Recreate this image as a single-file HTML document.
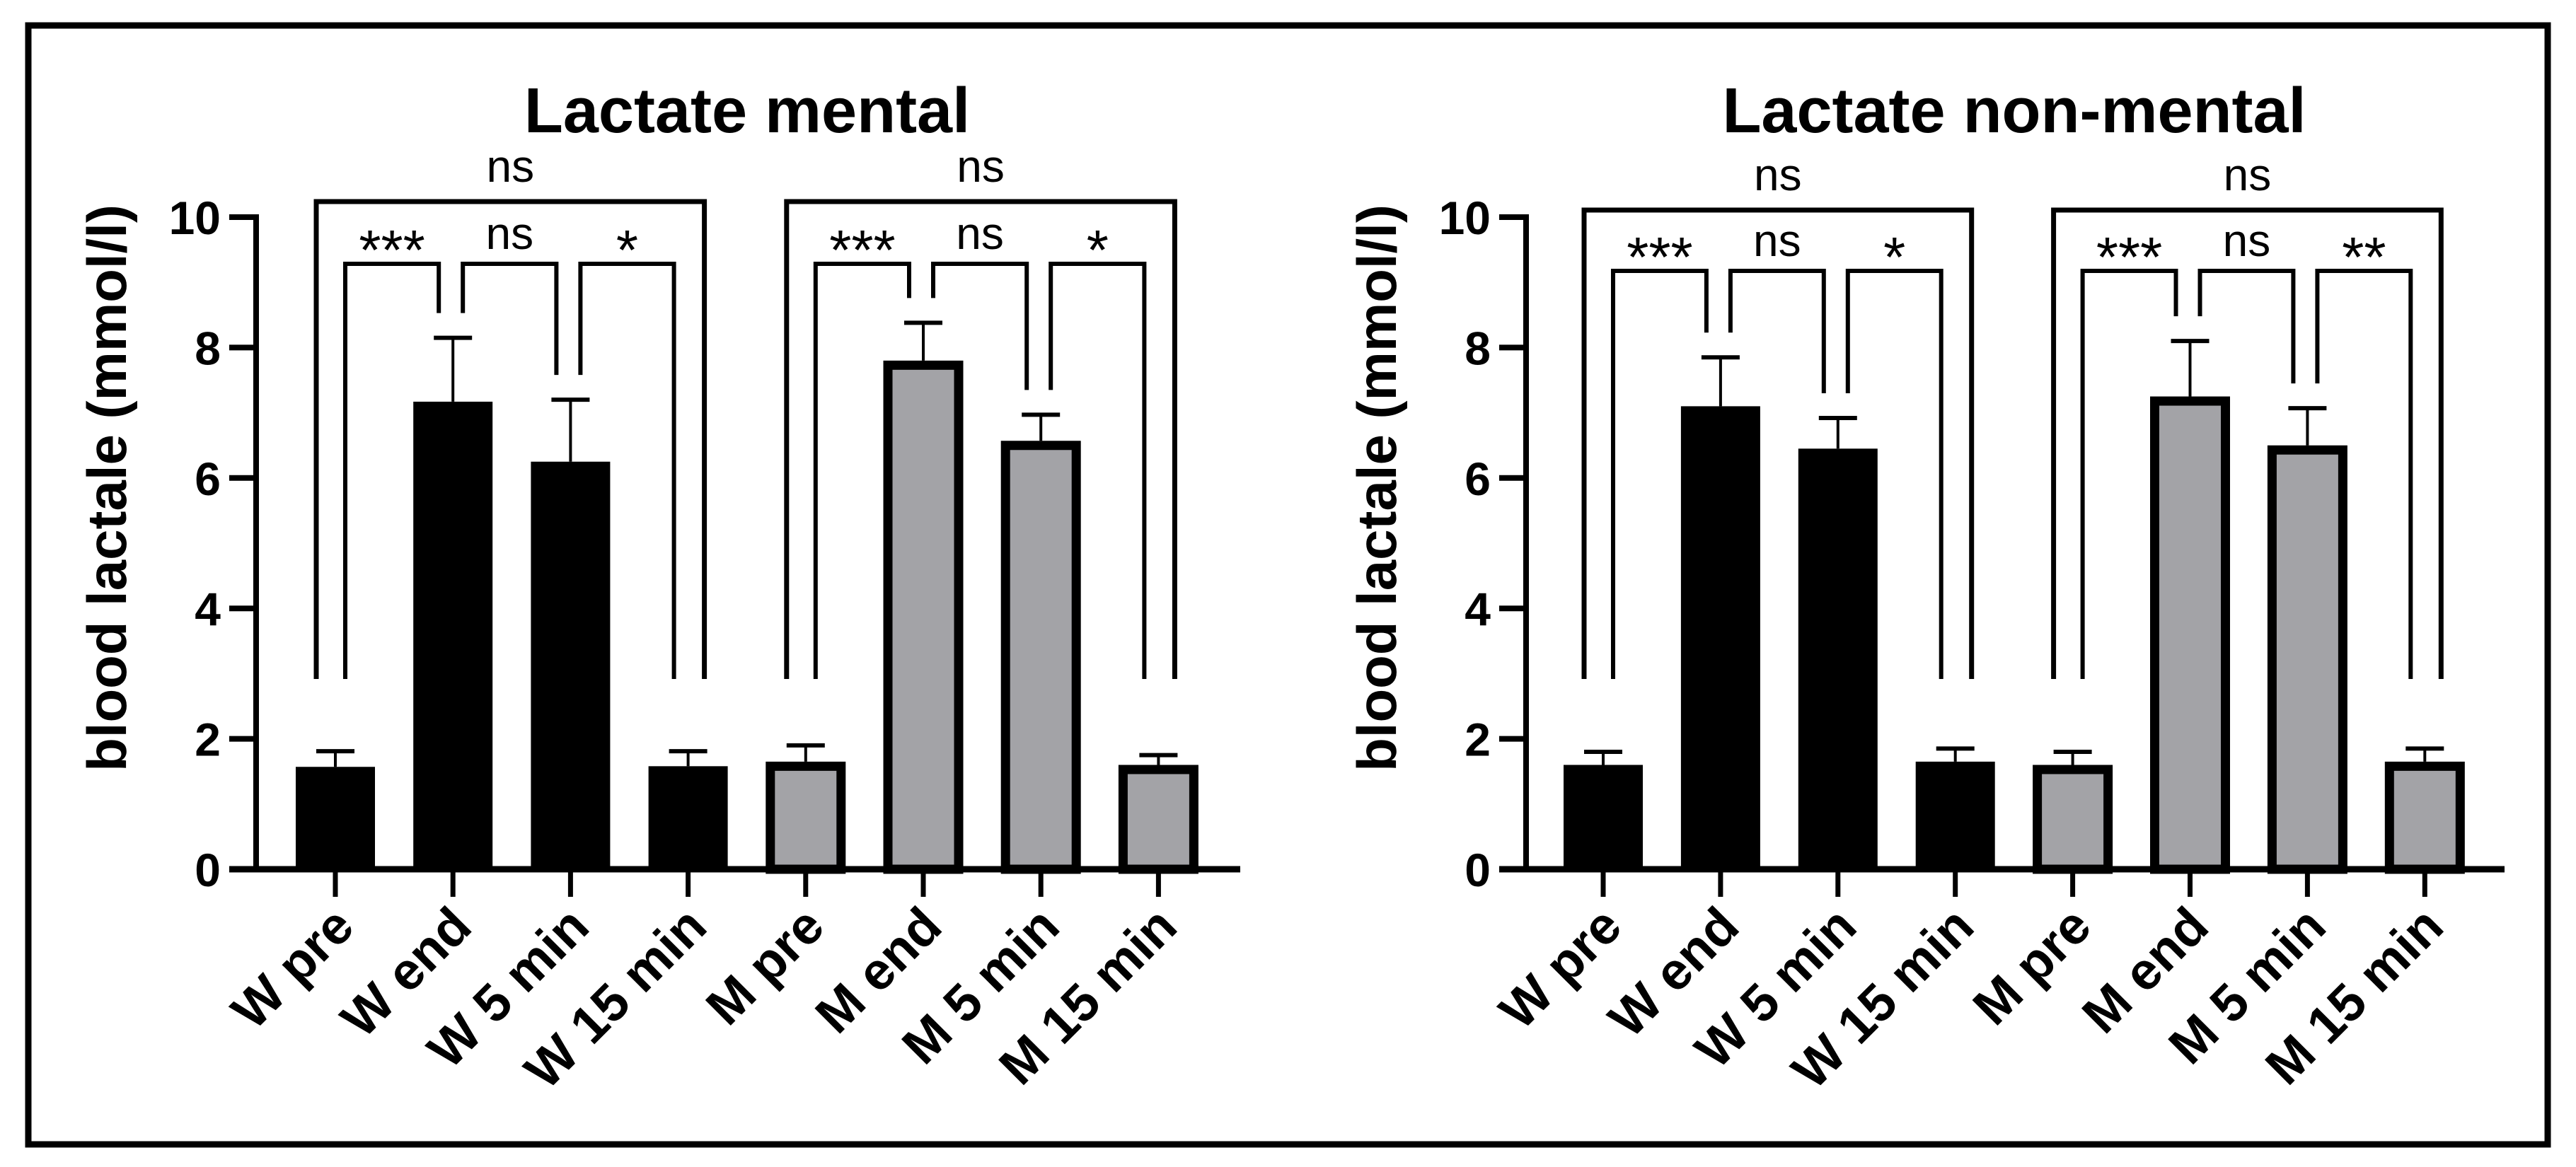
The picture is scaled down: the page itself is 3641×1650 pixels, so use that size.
<!DOCTYPE html>
<html><head><meta charset="utf-8">
<style>
html,body{margin:0;padding:0;background:#fff;}
svg{display:block;}
text{font-family:"Liberation Sans",Arial,sans-serif;fill:#000;}
</style></head>
<body>
<svg id="fig" width="3641" height="1650" viewBox="0 0 3641 1650" xmlns="http://www.w3.org/2000/svg">
<rect x="40" y="36" width="3561" height="1582" fill="none" stroke="#000" stroke-width="9"/>
</svg>
<script>
const categories = ["W pre","W end","W 5 min","W 15 min","M pre","M end","M 5 min","M 15 min"];
const mentalMeans = [1.57,7.17,6.25,1.58,1.65,7.8,6.57,1.6];
const mentalErr = [1.81,8.15,7.2,1.81,1.9,8.38,6.97,1.75];
const nonMentalMeans = [1.6,7.1,6.45,1.65,1.6,7.25,6.5,1.65];
const nonMentalErr = [1.8,7.85,6.92,1.85,1.8,8.1,7.07,1.85];
const yTicks = [0,2,4,6,8,10];
const mentalSig = ["***","ns","*","***","ns","*"];
const nonMentalSig = ["***","ns","*","***","ns","**"];
const groupSig = ["ns","ns"];

const NS = "http://www.w3.org/2000/svg";
const svg = document.getElementById('fig');
function el(tag, attrs, parent){
  const e = document.createElementNS(NS, tag);
  for (const k in attrs) e.setAttribute(k, attrs[k]);
  (parent||svg).appendChild(e);
  return e;
}
function sigText(g, x, yb, s){
  const star = s.indexOf('*') >= 0;
  const st = el('text', {x: x, y: star ? yb + 8 : yb - 21, 'font-size': star ? 80 : 64, 'text-anchor': 'middle'}, g);
  st.textContent = s;
  return st;
}
function drawChart(cfg){
  const g = el('g', {});
  
  
  const y0 = 1229, y10 = 307;
  const yScale = v => y0 - (y0 - y10) * v / 10;
  const xScale = i => cfg.x0 + i * cfg.step;
  const axisX = cfg.axisX;
  const t = el('text', {x: cfg.titleX, y: 187, 'font-size': 90, 'font-weight': 'bold', 'text-anchor': 'middle'}, g);
  t.textContent = cfg.title;
  
  
  const yt = el('text', {x: 0, y: 0, 'font-size': 78, 'font-weight': 'bold', 'text-anchor': 'middle', transform: `translate(${axisX-184},690) rotate(-90)`}, g);
  yt.textContent = 'blood lactale (mmol/l)';
  
  
  cfg.means.forEach((v, i) => {
    const cx = xScale(i);
    const top = yScale(v);
    const grey = i >= 4;
    const ey = yScale(cfg.err[i]);
    const eb = el('line', {x1: cx, x2: cx, y1: top, y2: ey, stroke: '#000', 'stroke-width': 4}, g);
    
    
    const ec = el('line', {x1: cx-27, x2: cx+27, y1: ey, y2: ey, stroke: '#000', 'stroke-width': 6}, g);
    
    
    let b;
    if (grey) {
      b = el('rect', {x: cx-50, y: top+6.5, width: 100, height: y0-top-6.5, fill: '#a3a3a7', stroke: '#000', 'stroke-width': 13}, g);
    } else {
      b = el('rect', {x: cx-56, y: top, width: 112, height: y0-top, fill: '#000'}, g);
    }
    
    
    const xt = el('line', {x1: cx, x2: cx, y1: y0, y2: 1268, stroke: '#000', 'stroke-width': 7}, g);
    
    
    const lbl = el('text', {x: 0, y: 0, 'font-size': 74, 'font-weight': 'bold', 'text-anchor': 'end', transform: `translate(${cx+30},1314) rotate(-45)`}, g);
    lbl.textContent = categories[i];
    
    
  });
  const ya = el('line', {x1: axisX, x2: axisX, y1: y10-4, y2: y0+4, stroke: '#000', 'stroke-width': 8}, g);
  
  
  const xa = el('line', {x1: axisX-38, x2: cfg.axisEnd, y1: y0, y2: y0, stroke: '#000', 'stroke-width': 9}, g);
  
  
  yTicks.forEach(v => {
    const yy = yScale(v);
    const tk = el('line', {x1: axisX-38, x2: axisX, y1: yy, y2: yy, stroke: '#000', 'stroke-width': 8}, g);
    
    
    const tl = el('text', {x: axisX-50, y: yy+24, 'font-size': 66, 'font-weight': 'bold', 'text-anchor': 'end'}, g);
    tl.textContent = v;
    
    
  });
  function legBottom(i){ return Math.min(yScale(cfg.err[i]) - 35, 960); }
  const pairs = [[0,1],[1,2],[2,3],[4,5],[5,6],[6,7]];
  pairs.forEach((p, k) => {
    const xl = xScale(p[0]) + 14, xr = xScale(p[1]) - 20;
    const yb = cfg.smallY;
    const br = el('path', {d: `M${xl},${legBottom(p[0])} V${yb} H${xr} V${legBottom(p[1])}`, fill: 'none', stroke: '#000', 'stroke-width': 6}, g);
    
    
    const st = sigText(g, (xl+xr)/2, yb, cfg.sig[k]);
    
    
  });
  [[0,3],[4,7]].forEach((p, k) => {
    const xl = xScale(p[0]) - 27, xr = xScale(p[1]) + 23;
    const yb = cfg.bigY;
    const br = el('path', {d: `M${xl},960 V${yb} H${xr} V960`, fill: 'none', stroke: '#000', 'stroke-width': 7}, g);
    
    
    const st = el('text', {x: (xl+xr)/2, y: yb - 28, 'font-size': 64, 'text-anchor': 'middle'}, g);
    st.textContent = groupSig[k];
    
    
  });
}
drawChart({name: 'chart-lactate-mental', title: 'Lactate mental', titleX: 1056, axisX: 362, axisEnd: 1753, x0: 474, step: 166.2, means: mentalMeans, err: mentalErr, sig: mentalSig, bigY: 285, smallY: 373});
drawChart({name: 'chart-lactate-non-mental', title: 'Lactate non-mental', titleX: 2847, axisX: 2157, axisEnd: 3540, x0: 2266, step: 165.9, means: nonMentalMeans, err: nonMentalErr, sig: nonMentalSig, bigY: 297, smallY: 383});
</script>
</body></html>
